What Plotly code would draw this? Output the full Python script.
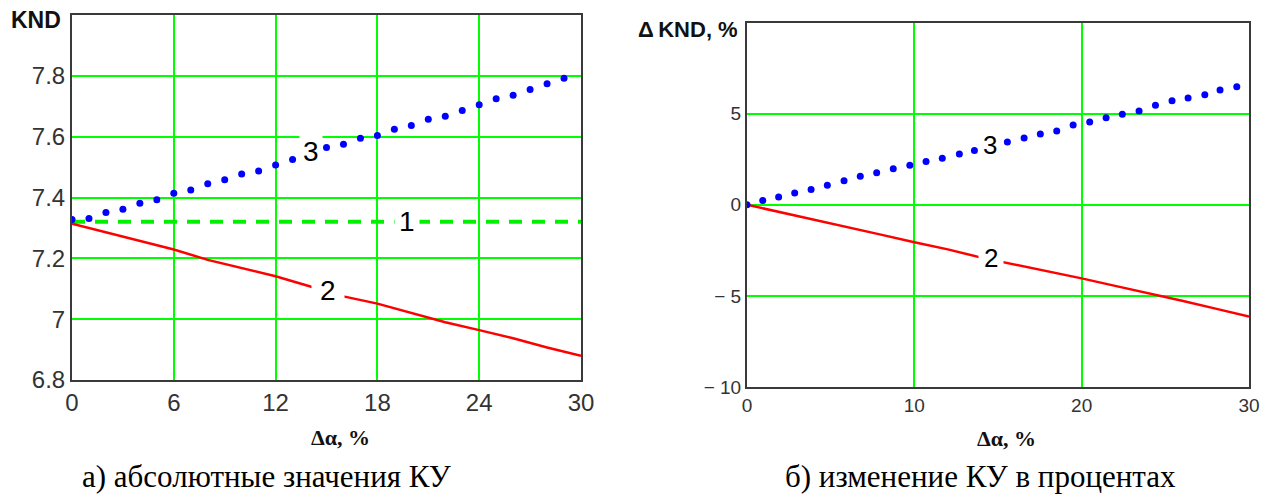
import plotly.graph_objects as go

# ---- panel (a): absolute values of KND versus delta-alpha ----
a_x3 = [0, 1, 2, 3, 4, 5, 6, 7, 8, 9, 10, 11, 12, 13,
        15, 16, 17, 18, 19, 20, 21, 22, 23, 24, 25, 26, 27, 28, 29]
a_y3 = [7.328, 7.331, 7.351, 7.361, 7.381, 7.393, 7.414, 7.425, 7.445, 7.458,
        7.477, 7.487, 7.507, 7.525,
        7.564, 7.575, 7.595, 7.604, 7.624, 7.637, 7.657, 7.667, 7.686, 7.705,
        7.725, 7.736, 7.755, 7.774, 7.792]
a_x1 = [0, 30]
a_y1 = [7.32, 7.32]
a_x2 = [0, 2, 4, 6, 8, 10, 12, 14, 16, 18, 20, 22, 24, 26, 28, 30]
a_y2 = [7.314, 7.285, 7.256, 7.229, 7.195, 7.168, 7.141, 7.108, 7.075, 7.051,
        7.020, 6.990, 6.964, 6.937, 6.907, 6.880]
a_xticks = [0, 6, 12, 18, 24, 30]
a_yticks = [6.8, 7.0, 7.2, 7.4, 7.6, 7.8]
a_yticktext = ["6.8", "7", "7.2", "7.4", "7.6", "7.8"]

# ---- panel (b): change of KND in percent ----
b_x3 = [0, 0.94, 1.89, 2.85, 3.83, 4.80, 5.80, 6.77, 7.75, 8.74, 9.73, 10.70,
        11.67, 12.69, 13.59,
        15.56, 16.56, 17.53, 18.51, 19.49, 20.48, 21.46, 22.43, 23.43, 24.41,
        25.40, 26.36, 27.36, 28.27, 29.27]
b_y3 = [0.0, 0.24, 0.42, 0.64, 0.83, 1.07, 1.32, 1.56, 1.75, 1.97, 2.17, 2.37,
        2.55, 2.79, 2.98,
        3.44, 3.66, 3.88, 4.04, 4.37, 4.54, 4.78, 4.96, 5.15, 5.46, 5.70, 5.86,
        6.03, 6.29, 6.47]
b_x2 = [0, 2, 4, 6, 8, 10, 12, 14, 16, 18, 20, 22, 24, 26, 28, 30]
b_y2 = [0.0, -0.40, -0.80, -1.22, -1.64, -2.06, -2.45, -2.90, -3.27, -3.66,
        -4.04, -4.45, -4.85, -5.27, -5.70, -6.13]
b_xticks = [0, 10, 20, 30]
b_yticks = [-10, -5, 0, 5]
b_yticktext = ["\u2212 10", "\u2212 5", "0", "5"]

W, H = 1273, 499
GRID = "#00ff00"
FRAME = "#3a3a3a"
TICKFONT = "Liberation Sans Narrow, Arial Narrow, Liberation Sans, sans-serif"


def px(x):
    return x / W


def py(y):
    return 1 - y / H


fig = go.Figure()

fig.add_trace(go.Scatter(x=a_x1, y=a_y1, mode="lines",
                         line=dict(color="#00f000", width=4, dash="13px,10px"),
                         xaxis="x", yaxis="y", showlegend=False))
fig.add_trace(go.Scatter(x=a_x2, y=a_y2, mode="lines",
                         line=dict(color="#ff0000", width=2.5),
                         xaxis="x", yaxis="y", showlegend=False))
fig.add_trace(go.Scatter(x=a_x3, y=a_y3, mode="markers",
                         marker=dict(color="#0000ff", size=7),
                         xaxis="x", yaxis="y", showlegend=False))

fig.add_trace(go.Scatter(x=b_x2, y=b_y2, mode="lines",
                         line=dict(color="#ff0000", width=2.5),
                         xaxis="x2", yaxis="y2", showlegend=False))
fig.add_trace(go.Scatter(x=b_x3, y=b_y3, mode="markers",
                         marker=dict(color="#0000ff", size=7),
                         xaxis="x2", yaxis="y2", showlegend=False))

axis_common = dict(showline=True, mirror=True, linecolor=FRAME, linewidth=2,
                   showgrid=True, gridcolor=GRID, gridwidth=1.5,
                   zeroline=False, ticks="", fixedrange=True, automargin=False)

fig.update_layout(
    width=W, height=H,
    margin=dict(l=0, r=0, t=0, b=0, autoexpand=False),
    paper_bgcolor="white", plot_bgcolor="white",
    xaxis=dict(domain=[px(72), px(581)], range=[0, 30], anchor="y",
               tickvals=a_xticks, tickfont=dict(family=TICKFONT, size=24, color="#333"),
               **axis_common),
    yaxis=dict(domain=[py(380), py(15)], range=[6.8, 8.0], anchor="x",
               tickvals=a_yticks, ticktext=a_yticktext,
               tickfont=dict(family=TICKFONT, size=24, color="#333"),
               **axis_common),
    xaxis2=dict(domain=[px(747), px(1249)], range=[0, 30], anchor="y2",
                tickvals=b_xticks, tickfont=dict(family=TICKFONT, size=19, color="#333"),
                **axis_common),
    yaxis2=dict(domain=[py(387), py(22.5)], range=[-10, 10], anchor="x2",
                tickvals=b_yticks, ticktext=b_yticktext,
                tickfont=dict(family=TICKFONT, size=19, color="#333"),
                **axis_common),
)

ann = []
BOLD = "Liberation Sans, Arial, sans-serif"
SERIF = "Liberation Serif, Times New Roman, serif"

# axis titles
ann.append(dict(text="<b>KND</b>", x=px(36), y=py(20), font=dict(family=BOLD, size=23, color="#111")))
ann.append(dict(text="<b>\u0394\u2009KND, %</b>", x=px(688), y=py(30), font=dict(family=BOLD, size=22, color="#111")))
ann.append(dict(text="<b>\u0394\u03b1, %</b>", x=px(340), y=py(437), font=dict(family=SERIF, size=22, color="#111")))
ann.append(dict(text="<b>\u0394\u03b1, %</b>", x=px(1007), y=py(438), font=dict(family=SERIF, size=22, color="#111")))

# captions
ann.append(dict(text="а) абсолютные значения КУ", x=px(266), y=py(476), font=dict(family=SERIF, size=31, color="#000")))
ann.append(dict(text="б) изменение КУ в процентах", x=px(981), y=py(476), font=dict(family=SERIF, size=31, color="#000")))

for a in ann:
    a.update(xref="paper", yref="paper", showarrow=False, xanchor="center", yanchor="middle")

# curve numbers placed on the curves, with white boxes that break the lines
curve_labels = [
    dict(text="3", x=14.1, y=7.55, xref="x", yref="y", size=28, pad=3),
    dict(text="1", x=19.75, y=7.32, xref="x", yref="y", size=28, pad=4),
    dict(text="2", x=15.1, y=7.095, xref="x", yref="y", size=28, pad=8),
    dict(text="3", x=14.5, y=3.3, xref="x2", yref="y2", size=26, pad=3),
    dict(text="2", x=14.6, y=-2.9, xref="x2", yref="y2", size=26, pad=5),
]
for c in curve_labels:
    ann.append(dict(text=c["text"], x=c["x"], y=c["y"], xref=c["xref"], yref=c["yref"],
                    showarrow=False, bgcolor="white", borderpad=c["pad"],
                    font=dict(family="Liberation Sans, Arial, sans-serif", size=c["size"], color="#000")))

fig.update_layout(annotations=ann)

fig.write_html("out.html")
